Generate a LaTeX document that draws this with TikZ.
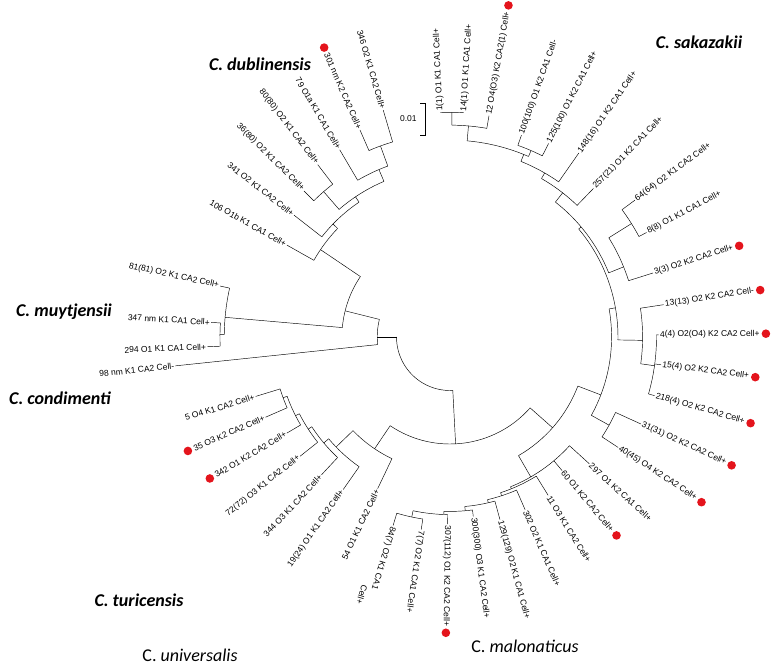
\documentclass[tikz,border=0pt]{standalone}
\usepackage{fontspec}
\setmainfont{Liberation Sans}
\newfontfamily\spfont{Carlito}
\usepackage{tikz}
\usetikzlibrary{calc}
\definecolor{dotred}{RGB}{228,20,28}
\tikzset{
    leaf/.style = {draw=none, fill=none, inner sep=1.2pt, font=\fontsize{8.5}{9}\selectfont},
    species/.style = {draw=none, inner sep=0pt, font=\spfont\bfseries\itshape\fontsize{18}{20}\selectfont},
    speciesplain/.style = {draw=none, inner sep=0pt, font=\spfont\fontsize{18}{20}\selectfont},
    branch/.style = {black, line width=0.45pt}
}
\newcommand{\rs}{1.07}
\newcommand{\clade}[3]{\draw[branch] (#2:{#1*\rs}) arc[start angle=#2, end angle=#3, radius={#1*\rs}];}
\newcommand{\stem}[3]{\draw[branch] (#1:{#2*\rs}) -- (#1:{#3*\rs});}
\newcommand{\leafout}[5]{\draw[branch] (#2:{#3*\rs}) -- (#2:{#4*\rs}) node[leaf, rotate=#2, anchor=west] (#1) {#5};}
\newcommand{\leafin}[5]{\draw[branch] (#2:{#3*\rs}) -- (#2:{#4*\rs}) node[leaf, rotate=#2+180, anchor=east] (#1) {#5};}
\newcommand{\dotout}[1]{\fill[dotred] ($(#1.east)!-5pt!(#1.west)$) circle (4.3pt);}
\newcommand{\dotin}[1]{\fill[dotred] ($(#1.west)!-5pt!(#1.east)$) circle (4.3pt);}

\begin{document}
\begin{tikzpicture}[x=1pt, y=1pt]
\useasboundingbox (-450,-329) rectangle (328,337);

% root and upper clades
\clade{50}{180}{273}
\stem{180}{50}{68}
\clade{68}{166}{186}
\stem{166}{68}{101}
\clade{101}{146}{175}
\stem{175}{101}{211}
\clade{211}{167.5}{179.4}
\stem{179.4}{211}{215}
\clade{215}{176.5}{182.3}
\stem{146}{101}{146}
\clade{146}{136}{150.6}
\stem{136}{146}{152}
\clade{152}{124}{142}
\stem{124}{152}{158}
\clade{158}{113}{131}
\stem{131}{158}{180}
\clade{180}{127.5}{135}
\stem{113}{158}{170}
\clade{170}{110}{120.5}
\stem{110}{170}{190}
\clade{190}{106.4}{113.5}

% lower clades
\stem{273}{50}{100}
\clade{100}{-124}{-41.5}
\stem{-124}{100}{126}
\clade{126}{-136}{-115.5}
\stem{-136}{126}{148}
\clade{148}{-140}{-125}
\stem{-140}{148}{154}
\clade{154}{-147}{-133}
\stem{-147}{154}{158}
\clade{158}{-153}{-141.5}
\stem{-153}{158}{162}
\clade{162}{-160}{-149.5}
\stem{-160}{162}{166}
\clade{166}{-163}{-156.5}

\stem{-41.5}{100}{128}
\clade{128}{-60}{-21}
\stem{-60}{128}{151}
\clade{151}{-68}{-42.3}
\stem{-68}{151}{153}
\clade{153}{-72}{-58.2}
\stem{-72}{153}{156}
\clade{156}{-77}{-66.5}
\stem{-77}{156}{159}
\clade{159}{-85}{-74.7}
\stem{-85}{159}{163}
\clade{163}{-92}{-82.6}
\stem{-92}{163}{166}
\clade{166}{-102}{-90.8}
\stem{-102}{166}{172}
\clade{172}{-106.8}{-98.5}

\stem{-21}{128}{151}
\clade{151}{-29}{10}
\stem{-29}{151}{170}
\clade{170}{-33.3}{-24.5}
\stem{10}{151}{157}
\clade{157}{-1}{40}
\stem{-1}{157}{180}
\clade{180}{-8}{8.6}
\stem{-8}{180}{193}
\clade{193}{-16}{0.6}
\stem{40}{157}{160}
\clade{160}{22}{52}
\stem{22}{160}{175}
\clade{175}{17.5}{32}
\stem{32}{175}{200}
\clade{200}{28}{36.5}
\stem{52}{160}{171}
\clade{171}{46}{60}
\stem{60}{171}{177}
\clade{177}{55}{68}
\stem{68}{177}{184}
\clade{184}{66.5}{85}
\stem{66.5}{184}{190}
\clade{190}{63}{70.5}
\stem{85}{184}{198}
\clade{198}{80}{89.5}
\stem{89.5}{198}{210}
\clade{210}{86.5}{92.5}

% leaves
\leafout{l1}{92.5}{210}{210}{1(1) O1 K1 CA1 Cell+}
\leafout{l14}{86.5}{210}{210}{14(1) O1 K1 CA1 Cell+}
\leafout{l12}{80}{198}{210}{12 O4(O3) K2 CA2(1) Cell+} \dotout{l12}
\leafout{l100}{70.5}{190}{200}{100(100) O1 K2 CA1 Cell-}
\leafout{l125}{63}{190}{203}{125(100) O1 K2 CA1 Cell+}
\leafout{l148}{55}{177}{210}{148(16) O1 K2 CA1 Cell+}
\leafout{l257}{46}{171}{193}{257(21) O1 K2 CA1 Cell+}
\leafout{l64}{36.5}{200}{215}{64(64) O2 K1 CA2 Cell+}
\leafout{l8}{28}{200}{208}{8(8) O1 K1 CA1 Cell+}
\leafout{l3}{17.5}{175}{199}{3(3) O2 K2 CA2 Cell+} \dotout{l3}
\leafout{l13}{8.6}{180}{202}{13(13) O2 K2 CA2 Cell-} \dotout{l13}
\leafout{l4}{0.6}{193}{195}{4(4) O2(O4) K2 CA2 Cell+} \dotout{l4}
\leafout{l15}{-7.5}{193}{199}{15(4) O2 K2 CA2 Cell+} \dotout{l15}
\leafout{l218}{-16}{193}{199}{218(4) O2 K2 CA2 Cell+} \dotout{l218}
\leafout{l31}{-24.5}{170}{196}{31(31) O2 K2 CA2 Cell+} \dotout{l31}
\leafout{l40}{-33.3}{170}{188}{40(45) O4 K2 CA2 Cell+} \dotout{l40}
\leafout{l297}{-42.3}{151}{176}{297 O1 K2 CA1 Cell+}
\leafout{l60}{-50}{151}{163}{60 O1 K2 CA2 Cell+} \dotout{l60}
\leafout{l11}{-58.2}{153}{174}{11 O3 K1 CA2 Cell+}
\leafout{l302}{-66.5}{156}{176}{302 O2 K1 CA1 Cell+}
\leafout{l129}{-74.7}{159}{177}{129(129) O2 K1 CA1 Cell+}
\leafout{l300}{-82.6}{163}{169}{300(300) O3 K1 CA2 Cell+}
\leafout{l307}{-90.8}{166}{175}{307(112) O1 K2 CA2 Cell+} \dotout{l307}
\leafout{l7}{-98.5}{172}{182}{7(7) O2 K1 CA1 Cell+}
\leafout{l84}{-106.8}{172}{184}{84(7) O2 K1 CA1}
\node[leaf, rotate=-106.8, anchor=north west] (l84b) at ($(l84.south east)!4pt!(l84.south west)$) {Cell+};
\leafin{l54}{-115.5}{126}{157}{54 O1 K1 CA2 Cell+}
\leafin{l19}{-125}{148}{174}{19(24) O1 K1 CA2 Cell+}
\leafin{l344}{-133}{154}{176}{344 O3 K1 CA2 Cell+}
\leafin{l72}{-141.5}{158}{179}{72(72) O3 K1 CA2 Cell+}
\leafin{l342}{-149.5}{162}{177}{342 O1 K2 CA2 Cell+} \dotin{l342}
\leafin{l35}{-156.5}{166}{188}{35 O3 K2 CA2 Cell+} \dotin{l35}
\leafin{l5}{-163}{166}{190}{5 O4 K1 CA2 Cell+}
\leafin{l98}{186}{68}{258}{98 nm K1 CA2 Cell-}
\leafin{l294}{182.3}{215}{227}{294 O1 K1 CA1 Cell+}
\leafin{l347}{176.5}{215}{223.6}{347 nm K1 CA1 Cell+}
\leafin{l81}{167.5}{211}{220}{81(81) O2 K1 CA2 Cell+}
\leafin{l106}{150.6}{146}{175}{106 O1b K1 CA1 Cell+}
\leafin{l341}{142}{152}{185}{341 O2 K1 CA2 Cell+}
\leafin{l36}{135}{180}{193}{36(80) O2 K1 CA2 Cell+}
\leafin{l80}{127.5}{180}{203}{80(80) O2 K1 CA2 Cell+}
\leafin{l79}{120.5}{170}{203}{79 O1a K1 CA1 Cell+}
\leafin{l301}{113.5}{190}{211}{301 nm K2 CA2 Cell+} \dotin{l301}
\leafin{l346}{106.4}{190}{221}{346 O2 K1 CA2 Cell+}

% scale bar
\coordinate (sbtop) at (-25,234);
\coordinate (sbbot) at (-25,202);
\draw[branch] ([xshift=-5pt]sbtop) -- (sbtop) -- (sbbot) -- ([xshift=-5pt]sbbot);
\node[leaf, anchor=east] (sblabel) at (-32,218) {0.01};

% species
\node[species] (sakazakii) at (249,295) {C. sakazakii};
\node[species] (dublinensis) at (-190,273) {C. dublinensis};
\node[species] (muytjensii) at (-386,25) {C. muytjensii};
\node[species] (condimenti) at (-390,-61) {C. condimenti};
\node[species] (turicensis) at (-311,-263) {C. turicensis};
\node[speciesplain] (universalis) at (-260,-318) {C. \textit{universalis}};
\node[speciesplain] (malonaticus) at (75,-309) {C. \textit{malonaticus}};
\end{tikzpicture}
\end{document}
